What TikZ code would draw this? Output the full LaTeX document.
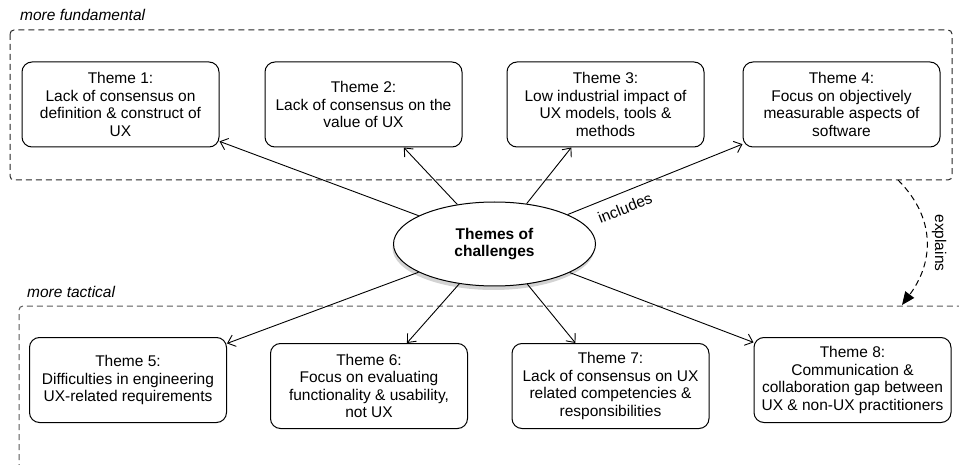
\documentclass[tikz,border=0pt]{standalone}
\usepackage{fontspec}
\setmainfont{Liberation Sans}
\usetikzlibrary{shapes.geometric,arrows.meta,shadows}
\tikzset{
  theme/.style={draw, line width=1pt, rounded corners=10pt, minimum width=197pt,
    minimum height=85pt, align=center, inner sep=2pt,
    font=\fontsize{15.5}{17.5}\selectfont},
  hub/.style={draw, ellipse, line width=1pt, fill=white, minimum width=202pt,
    minimum height=84pt, inner sep=0pt, align=center,
    font=\fontsize{15.5}{17.5}\selectfont\bfseries,
    drop shadow={shadow xshift=-1pt, shadow yshift=-4pt, opacity=0.35}},
  arr/.style={line width=0.9pt, -{Straight Barb[length=7pt,width=12pt]}},
  region/.style={dashed, dash pattern=on 6pt off 4pt, line width=1pt, rounded corners=4pt},
  lbl/.style={font=\fontsize{15.5}{17.5}\selectfont, inner sep=0pt},
}
\begin{document}
\begin{tikzpicture}[x=1pt, y=-1pt]
\useasboundingbox (0,0) rectangle (959,465);
% regions
\draw[region, black!85] (10,30) rectangle (952,180);
\draw[region, black!65] (19,470) -- (19,306) -- (965,306);
\node[lbl, anchor=base west, font=\fontsize{15.5}{17.5}\selectfont\itshape] (lf) at (20,21) {more fundamental};
\node[lbl, anchor=base west, font=\fontsize{15.5}{17.5}\selectfont\itshape] (lt) at (27,298) {more tactical};
% hub
\node[hub] (c) at (494.5,244) {Themes of\\challenges};
% themes
\node[theme] (t1) at (120.5,104.5) {Theme 1:\\Lack of consensus on\\definition \& construct of\\UX};
\node[theme] (t2) at (363.5,104.5) {Theme 2:\\Lack of consensus on the\\value of UX};
\node[theme] (t3) at (605.5,104.5) {Theme 3:\\Low industrial impact of\\UX models, tools \&\\methods};
\node[theme] (t4) at (841.5,104.5) {Theme 4:\\Focus on objectively\\measurable aspects of\\software};
\node[theme] (t5) at (128,380) {Theme 5:\\Difficulties in engineering\\UX-related requirements};
\node[theme] (t6) at (369,386) {Theme 6:\\Focus on evaluating\\functionality \& usability,\\not UX};
\node[theme] (t7) at (610.5,386) {Theme 7:\\Lack of consensus on UX\\related competencies \&\\responsibilities};
\node[theme] (t8) at (852.5,380) {Theme 8:\\Communication \&\\collaboration gap between\\UX \& non-UX practitioners};
% connectors
\foreach \t in {t1,t2,t3,t4,t5,t6,t7,t8}
  \draw[arr] (c) -- (\t);
\node[lbl, rotate=22] (inc) at (625,208) {includes};
% explains
\coordinate (e1) at (898,180);
\coordinate (e2) at (902,305);
\draw[dashed, dash pattern=on 6pt off 4pt, line width=1pt, -{Triangle[length=13pt,width=11pt]}]
  (e1) .. controls (936,218) and (934,262) .. (e2);
\node[lbl, rotate=-90] (ex) at (939,243) {explains};
\end{tikzpicture}
\end{document}
